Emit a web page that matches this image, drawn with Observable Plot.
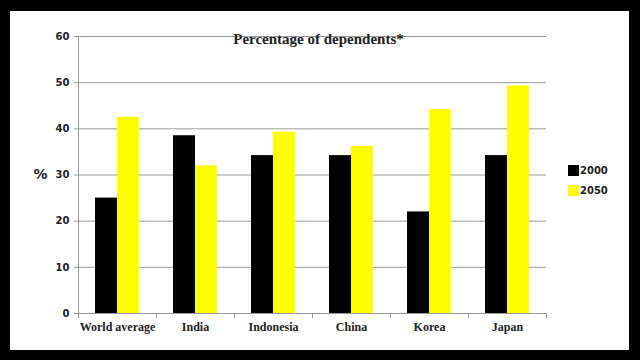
<!DOCTYPE html>
<html>
<head>
<meta charset="utf-8">
<script src="https://cdn.jsdelivr.net/npm/d3@7"></script>
<script src="https://cdn.jsdelivr.net/npm/@observablehq/plot@0.6"></script>
<style>
  html, body { margin: 0; padding: 0; background: #000; width: 640px; height: 360px; overflow: hidden; }
  #panel { position: absolute; left: 10px; top: 11px; width: 619px; height: 339px; background: #fff; }
  #title { position: absolute; left: 0; width: 619px; top: 20px; text-align: center;
           font: bold 15px "Liberation Serif", serif; color: #222; pointer-events: none; }
  #title span { position: relative; left: -1px; }
  #legend { position: absolute; left: 558px; top: 154px; font: bold 10px "DejaVu Sans", sans-serif; color: #222; }
  #legend .item { display: flex; align-items: center; height: 11px; margin-bottom: 9px; }
  #legend .sw { width: 11px; height: 11px; margin-right: 1px; }
</style>
</head>
<body>
<div id="panel">
  <div id="chart"></div>
  <div id="title"></div>
  <div id="legend"></div>
</div>
<script>
const chartTitle = "Percentage of dependents*";
const categories = ["World average", "India", "Indonesia", "China", "Korea", "Japan"];
const years = ["2000", "2050"];
const values2000 = [25, 38.5, 34.2, 34.2, 22, 34.2];
const values2050 = [42.5, 32, 39.3, 36.2, 44.2, 49.3];
const yTicks = [0, 10, 20, 30, 40, 50, 60];
const yLabel = "%";
const colors = ["#000000", "#ffff00"];

const data = [];
categories.forEach((c, i) => {
  data.push({category: c, year: years[0], value: values2000[i]});
  data.push({category: c, year: years[1], value: values2050[i]});
});

const gray = "#9a9a9a";
const chart = Plot.plot({
  width: 619,
  height: 339,
  marginLeft: 67,
  marginRight: 83,
  marginTop: 25,
  marginBottom: 37,
  style: {background: "transparent", overflow: "visible"},
  fx: {domain: categories, padding: 0, label: null},
  x: {domain: years, paddingInner: 0, paddingOuter: 0.73, axis: null},
  y: {domain: [0, 60], label: null},
  color: {domain: years, range: colors},
  marks: [
    Plot.gridY(yTicks, {stroke: gray, strokeOpacity: 1}),
    Plot.frame({anchor: "left", facetAnchor: "left", stroke: gray}),
    Plot.frame({anchor: "left", stroke: gray, insetTop: 277, insetBottom: -4}),
    Plot.frame({anchor: "right", stroke: gray, insetTop: 277, insetBottom: -4}),
    Plot.barY(data, {fx: "category", x: "year", y: "value", fill: "year"}),
    Plot.axisY({ticks: yTicks, tickSize: 4, tickPadding: 5, stroke: gray, fill: "#222",
                fontWeight: "bold", fontFamily: "DejaVu Sans", fontSize: 10, label: null}),
    Plot.axisFx({anchor: "bottom", tickSize: 0, tickPadding: 9, fill: "#222", label: null,
                 fontWeight: "bold", fontFamily: "Liberation Serif", fontSize: 12}),
    Plot.text([yLabel], {frameAnchor: "left", facetAnchor: "left", dx: -38, textAnchor: "middle",
                         fontSize: 14, fontWeight: "bold", fontFamily: "DejaVu Sans", fill: "#222"})
  ]
});
document.getElementById("chart").appendChild(chart);
document.getElementById("title").innerHTML = "<span>" + chartTitle + "</span>";
const legend = document.getElementById("legend");
years.forEach((y, i) => {
  const item = document.createElement("div");
  item.className = "item";
  item.innerHTML = `<div class="sw" style="background:${colors[i]}"></div><span>${y}</span>`;
  legend.appendChild(item);
});
</script>
</body>
</html>
